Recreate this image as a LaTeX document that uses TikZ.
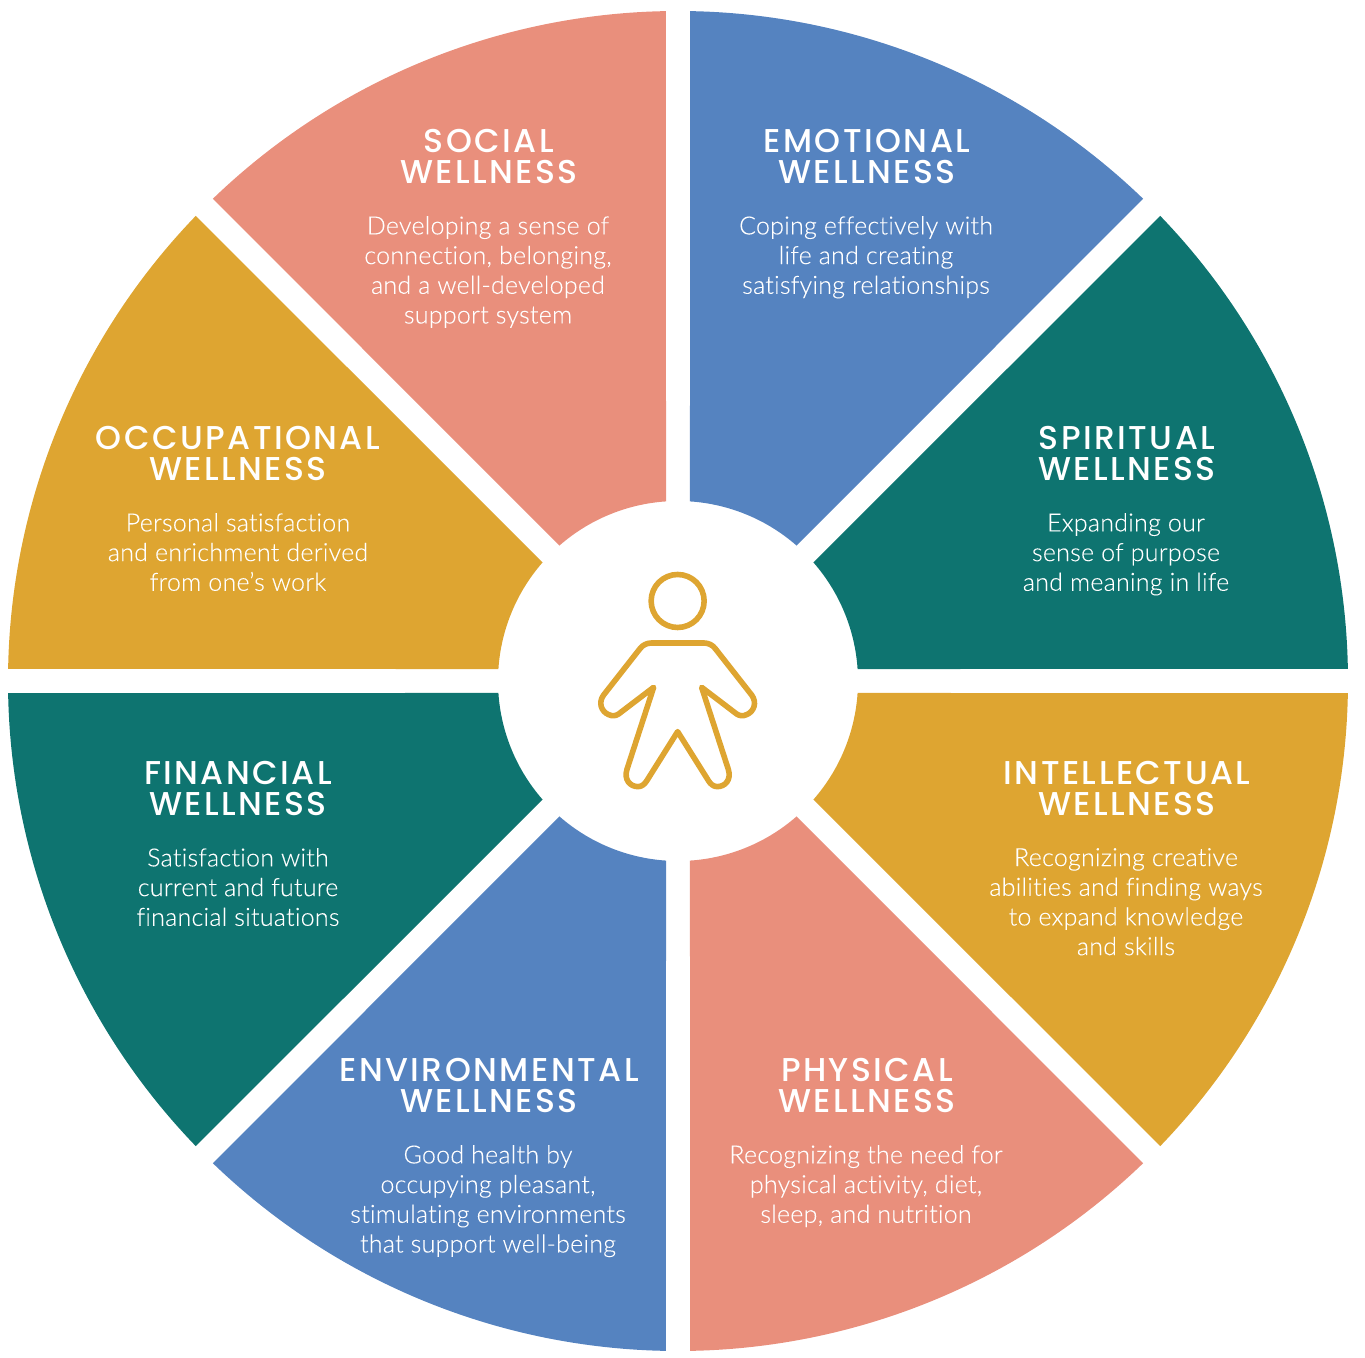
\documentclass[tikz,border=0pt]{standalone}
\usepackage{fontspec}
\setmainfont[Ligatures=NoCommon,LetterSpace=1,FakeBold=0.12]{Lato Light}
\newfontfamily\ttlfont[LetterSpace=7.5]{Poppins Medium}
\definecolor{salmon}{HTML}{E98F7C}
\definecolor{bluew}{HTML}{5583C0}
\definecolor{greenw}{HTML}{0E7470}
\definecolor{goldw}{HTML}{DEA531}
\newcommand{\sectorw}[2]{\fill[#2] (#1+1.03:670pt) arc[start angle=#1+1.03,end angle=#1+43.97,radius=670pt] -- (#1+41.18:180pt) arc[start angle=#1+41.18,end angle=#1+3.82,radius=180pt] -- cycle;}
\tikzset{
 ttl/.style={text=white,align=center,inner sep=0pt,anchor=center,font=\ttlfont\fontsize{33}{31}\selectfont},
 bodytxt/.style={text=white,align=center,inner sep=0pt,anchor=north,font=\fontsize{25}{29.7}\selectfont}
}
\begin{document}
\begin{tikzpicture}[x=1pt,y=1pt]
\useasboundingbox (-678,-676) rectangle (687,681);
\sectorw{0}{greenw}
\sectorw{45}{bluew}
\sectorw{90}{salmon}
\sectorw{135}{goldw}
\sectorw{180}{greenw}
\sectorw{225}{bluew}
\sectorw{270}{salmon}
\sectorw{315}{goldw}
% person
\begin{scope}[shift={(-198,201)},x=0.3333pt,y=-0.3333pt,draw=goldw,line width=5.6pt,line join=round]
\draw (593,363) circle[radius=79.5];
\draw (515,489) -- (672,489) .. controls (685,489) and (698,495) .. (706,506)
 -- (815,645) .. controls (832,668) and (822,695) .. (800,704)
 .. controls (790,709) and (778,708) .. (770,702)
 -- (665,622) -- (745,868) .. controls (755,900) and (735,920) .. (712,920)
 .. controls (700,920) and (692,912) .. (686,903)
 -- (593,755) -- (500,903) .. controls (494,912) and (486,920) .. (474,920)
 .. controls (451,920) and (431,900) .. (441,868)
 -- (521,622) -- (416,702) .. controls (408,708) and (396,709) .. (386,704)
 .. controls (364,695) and (354,668) .. (371,645)
 -- (480,506) .. controls (488,495) and (501,489) .. (515,489) -- cycle;
\end{scope}
% texts
\node[ttl] (t1) at (-189,524) {SOCIAL\\WELLNESS};
\node[bodytxt] (b1) at (-190,465) {Developing a sense of\\connection, belonging,\\and a well-developed\\support system};
\node[ttl] (t2) at (189,524) {EMOTIONAL\\WELLNESS};
\node[bodytxt] (b2) at (188,465) {Coping effectively with\\life and creating\\satisfying relationships};
\node[ttl] (t3) at (-440,227) {OCCUPATIONAL\\WELLNESS};
\node[bodytxt] (b3) at (-440,168) {Personal satisfaction\\and enrichment derived\\from one’s work};
\node[ttl] (t4) at (449,227) {SPIRITUAL\\WELLNESS};
\node[bodytxt] (b4) at (448,168) {Expanding our\\sense of purpose\\and meaning in life};
\node[ttl] (t5) at (-440,-107) {FINANCIAL\\WELLNESS};
\node[bodytxt] (b5) at (-440,-167) {Satisfaction with\\current and future\\financial situations};
\node[ttl] (t6) at (449,-107) {INTELLECTUAL\\WELLNESS};
\node[bodytxt] (b6) at (448,-167) {Recognizing creative\\abilities and finding ways\\to expand knowledge\\and skills};
\node[ttl] (t7) at (-189,-404) {ENVIRONMENTAL\\WELLNESS};
\node[bodytxt] (b7) at (-190,-464) {Good health by\\occupying pleasant,\\stimulating environments\\that support well-being};
\node[ttl] (t8) at (189,-404) {PHYSICAL\\WELLNESS};
\node[bodytxt] (b8) at (188,-464) {Recognizing the need for\\physical activity, diet,\\sleep, and nutrition};
\end{tikzpicture}
\end{document}
